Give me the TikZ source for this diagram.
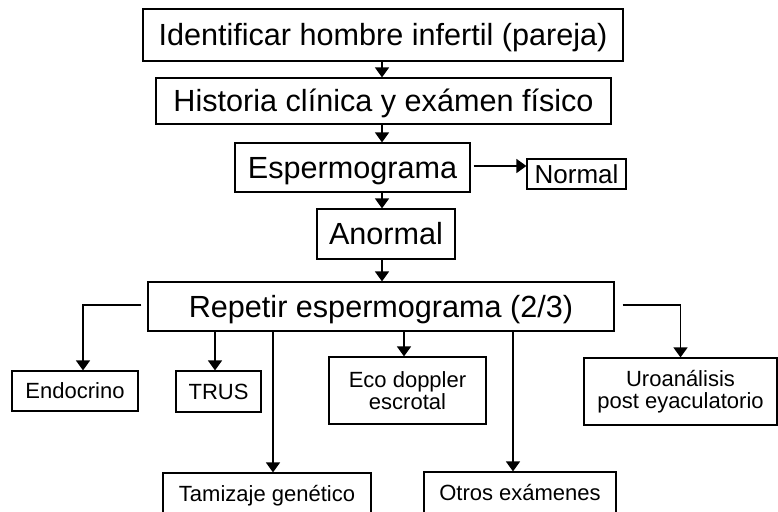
\documentclass[tikz,border=0pt]{standalone}
\usepackage{fontspec}
\setmainfont{Liberation Sans}
\usepackage{tikz}
\usetikzlibrary{arrows.meta}

\begin{document}
\begin{tikzpicture}
          [x=1pt,y=-1pt,
          big/.style={shape=rectangle,draw=black,line width=1.2pt,inner sep=0pt,text height=21.9pt,text depth=0pt,font=\fontsize{30.6}{34}\selectfont},
          small/.style={shape=rectangle,draw=black,line width=1.2pt,inner sep=0pt,text height=15.8pt,text depth=0pt,font=\fontsize{22}{22.5}\selectfont},
          twoline/.style={shape=rectangle,draw=black,line width=1.2pt,inner sep=0pt,align=center,font=\fontsize{22}{22.5}\selectfont},
          arc/.style={-{Triangle[width=14pt,length=10pt]},line width=1.5pt},
          edge/.style={line width=1.5pt}]

            \useasboundingbox (0,0) rectangle (778,511);
            \clip (0,0) rectangle (778,511);
            \coordinate (spine) at (382,0);

            \node (ident) [big,minimum width=480,minimum height=52] at (383,35) {Identificar hombre infertil (pareja)};
            \node (hist) [big,minimum width=455,minimum height=46] at (383.5,101) {Historia clínica y exámen físico};
            \node (esp) [big,minimum width=235,minimum height=49] at (352.5,167.5) {Espermograma};
            \node (normal) [big,font=\fontsize{26}{28}\selectfont,text height=18.6pt,minimum width=99,minimum height=30] at (576.5,174) {Normal};
            \node (anormal) [big,minimum width=138,minimum height=50] at (386,234) {Anormal};
            \node (rep) [big,minimum width=466,minimum height=49] at (381,306.5) {Repetir espermograma (2/3)};

            \node (endo) [small,minimum width=126,minimum height=40] at (75,391) {Endocrino};
            \node (trus) [small,minimum width=85,minimum height=41] at (218.5,391.5) {TRUS};
            \node (eco) [twoline,minimum width=157,minimum height=67] at (407.5,390.5) {Eco doppler\\escrotal};
            \node (uro) [twoline,minimum width=193,minimum height=67] at (680.5,391.5) {Uroanálisis\\post eyaculatorio};
            \node (tam) [small,minimum width=208,minimum height=41] at (267,493.5) {Tamizaje genético};
            \node (otros) [small,minimum width=192,minimum height=41] at (520,492.5) {Otros exámenes};

            \coordinate (espout) at ([xshift=3pt,yshift=1.5pt]esp.east);
            \coordinate (repleft) at ([xshift=-6pt,yshift=1.5pt]rep.west);
            \coordinate (repright) at ([xshift=8pt,yshift=1.5pt]rep.east);

          \draw [arc] (ident.south -| spine) -- (hist.north -| spine);
            \draw [arc] (hist.south -| spine) -- (esp.north -| spine);
            \draw [arc] (esp.south -| spine) -- (anormal.north -| spine);
            \draw [arc] (anormal.south -| spine) -- (rep.north -| spine);
            \draw [arc] (espout) -- (normal.west |- espout);

            \draw [arc] (repleft) -| ([xshift=8pt]endo.north);
            \draw [arc] ([xshift=-3.5pt]trus.north |- rep.south) -- ([xshift=-3.5pt]trus.north);
            \draw [arc] ([xshift=6pt]tam.north |- rep.south) -- ([xshift=6pt]tam.north);
            \draw [arc] ([xshift=-3.5pt]eco.north |- rep.south) -- ([xshift=-3.5pt]eco.north);
            \draw [arc] ([xshift=-7pt]otros.north |- rep.south) -- ([xshift=-7pt]otros.north);
            \draw [arc] (repright) -| (uro.north);

        \end{tikzpicture}
\end{document}
